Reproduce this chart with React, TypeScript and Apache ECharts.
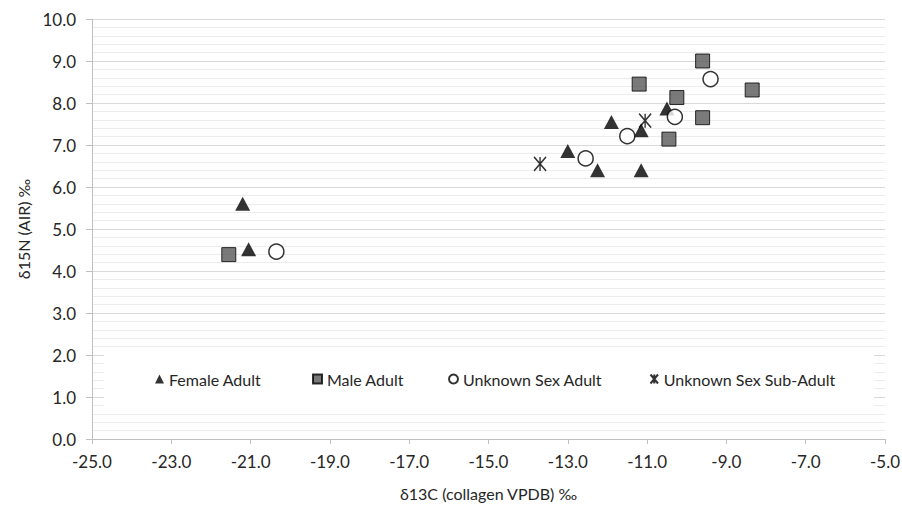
import React, { useEffect, useRef } from "react";
import * as echarts from "echarts";

const seriesNames = ["Female Adult", "Male Adult", "Unknown Sex Adult", "Unknown Sex Sub-Adult"];

const femaleAdult: [number, number][] = [
  [-21.2, 5.6], [-21.05, 4.52], [-10.5, 7.87], [-11.9, 7.55], [-11.15, 7.35],
  [-13.0, 6.86], [-12.25, 6.4], [-11.15, 6.4],
];
const maleAdult: [number, number][] = [
  [-9.6, 9.0], [-8.35, 8.31], [-11.2, 8.45], [-10.25, 8.13], [-9.6, 7.65],
  [-10.45, 7.14], [-21.55, 4.39],
];
const unknownAdult: [number, number][] = [
  [-9.4, 8.57], [-10.3, 7.67], [-11.5, 7.21], [-12.55, 6.68], [-20.35, 4.46],
];
const unknownSubAdult: [number, number][] = [
  [-11.05, 7.58], [-13.7, 6.55],
];

const xTicks = [-25, -23, -21, -19, -17, -15, -13, -11, -9, -7, -5];
const yTicks = [0, 1, 2, 3, 4, 5, 6, 7, 8, 9, 10];

const xTitle = "δ13C (collagen VPDB) ‰";
const yTitle = "δ15N (AIR) ‰";

const FONT = "Lato, 'Noto Sans', sans-serif";
const ASTERISK = "path://M0,0L10,12M10,0L0,12M5,0L5,12";

export default function App() {
  const ref = useRef<HTMLDivElement>(null);
  useEffect(() => {
    if (!ref.current) return;
    const chart = echarts.init(ref.current, null, { renderer: "svg" });
    const legendLefts = [155, 312, 448, 648];
    const legendIcons = ["triangle", "rect", "circle", ASTERISK];
    chart.setOption({
      animation: false,
      textStyle: { fontFamily: FONT },
      grid: { left: 92, right: 17, top: 19, bottom: 69, outerBoundsMode: "none" },
      graphic: [
        {
          type: "rect",
          z: 1,
          shape: { x: 104, y: 352, width: 770, height: 56 },
          style: { fill: "#ffffff" },
        },
      ],
      legend: seriesNames.map((n, i) => ({
        data: [{ name: n, icon: legendIcons[i] }],
        left: legendLefts[i],
        top: 371,
        padding: 0,
        itemWidth: 9,
        itemHeight: 9,
        itemGap: 6,
        textStyle: { fontFamily: FONT, fontSize: 16, color: "#262626", padding: [0, 0, 0, 0] },
        selectedMode: false,
      })),
      xAxis: {
        type: "value",
        min: -25,
        max: -5,
        name: xTitle,
        nameLocation: "middle",
        nameGap: 46,
        nameTextStyle: { fontFamily: FONT, fontSize: 16, color: "#262626" },
        axisLine: { show: true, onZero: false, lineStyle: { color: "#bfbfbf", width: 1 } },
        axisTick: { show: true, length: 5, lineStyle: { color: "#bfbfbf" }, customValues: xTicks },
        axisLabel: {
          customValues: xTicks,
          formatter: (v: number) => v.toFixed(1),
          fontFamily: FONT,
          fontSize: 17,
          color: "#262626",
          margin: 14,
        },
        splitLine: { show: false },
      },
      yAxis: {
        type: "value",
        min: 0,
        max: 10,
        interval: 1,
        name: yTitle,
        nameLocation: "middle",
        nameGap: 52,
        nameTextStyle: { fontFamily: FONT, fontSize: 16, color: "#262626" },
        axisLine: { show: true, lineStyle: { color: "#bfbfbf", width: 1 } },
        axisTick: { show: true, length: 6, lineStyle: { color: "#bfbfbf" }, customValues: yTicks },
        axisLabel: {
          customValues: yTicks,
          formatter: (v: number) => v.toFixed(1),
          fontFamily: FONT,
          fontSize: 17,
          color: "#262626",
          margin: 16,
        },
        splitLine: { show: true, lineStyle: { color: "#d9d9d9", width: 1 } },
        minorTick: { show: false, splitNumber: 5 },
        minorSplitLine: { show: true, lineStyle: { color: "#ececec", width: 1 } },
      },
      series: [
        {
          name: seriesNames[0],
          type: "scatter",
          data: femaleAdult,
          symbol: "triangle",
          symbolSize: [15, 14],
          itemStyle: { color: "#000000" },
          z: 3,
        },
        {
          name: seriesNames[1],
          type: "scatter",
          data: maleAdult,
          symbol: "rect",
          symbolSize: 14,
          itemStyle: { color: "#595959", borderColor: "#000000", borderWidth: 1 },
          z: 3,
        },
        {
          name: seriesNames[2],
          type: "scatter",
          data: unknownAdult,
          symbol: "circle",
          symbolSize: 15,
          itemStyle: { color: "#ffffff", borderColor: "#000000", borderWidth: 1.5 },
          z: 3,
        },
        {
          name: seriesNames[3],
          type: "scatter",
          data: unknownSubAdult,
          symbol: ASTERISK,
          symbolSize: [12, 14],
          itemStyle: { color: "none", borderColor: "#000000", borderWidth: 1.5 },
          z: 3,
        },
      ],
    });
    return () => chart.dispose();
  }, []);
  return <div ref={ref} style={{ width: 902, height: 508, position: "absolute", left: 0, top: 0 }} />;
}
